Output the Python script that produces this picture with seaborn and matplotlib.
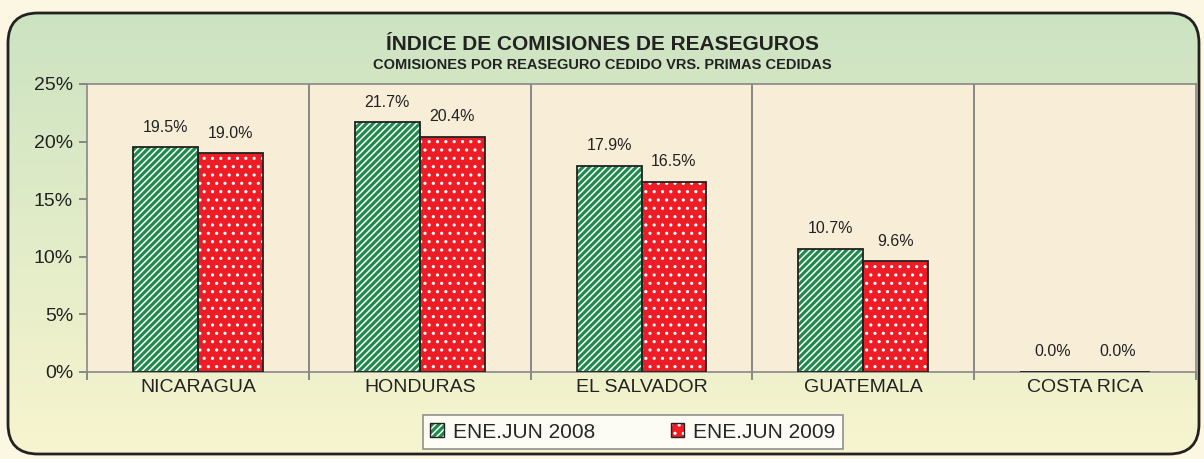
import numpy as np
import pandas as pd
import matplotlib
matplotlib.use("Agg")
import matplotlib.pyplot as plt
import seaborn as sns
from matplotlib.patches import FancyBboxPatch, Rectangle, Patch

# -----------------------------
# Data
# -----------------------------
paises = ["NICARAGUA", "HONDURAS", "EL SALVADOR", "GUATEMALA", "COSTA RICA"]
periodos = ["ENE.JUN 2008", "ENE.JUN 2009"]
valores_2008 = [19.5, 21.7, 17.9, 10.7, 0.0]
valores_2009 = [19.0, 20.4, 16.5, 9.6, 0.0]
y_ticks = [0, 5, 10, 15, 20, 25]

df = pd.DataFrame({
    "pais": paises * 2,
    "periodo": [periodos[0]] * len(paises) + [periodos[1]] * len(paises),
    "valor": valores_2008 + valores_2009,
})

sns.set_style("white")
plt.rcParams["font.family"] = ["Liberation Sans", "DejaVu Sans"]
plt.rcParams["hatch.linewidth"] = 1.1

colores = {periodos[0]: "#1e8a4c", periodos[1]: "#ee1c25"}
hatches = {periodos[0]: "/////", periodos[1]: ".."}

fig = plt.figure(figsize=(12.04, 4.59), dpi=100)
fig.patch.set_facecolor("#fcf7e3")

# background panel with gradient and rounded border
bg = fig.add_axes([0, 0, 1, 1])
bg.set_xlim(0, 1204)
bg.set_ylim(0, 459)
bg.axis("off")
grad = np.linspace(0, 1, 256).reshape(-1, 1)
top = np.array([0.80, 0.89, 0.76])
bottom = np.array([0.97, 0.96, 0.81])
img = top * (1 - grad[..., None]) + bottom * grad[..., None]
img = np.repeat(img, 2, axis=1)
box = FancyBboxPatch((8, 5), 1191, 441, boxstyle="round,pad=0,rounding_size=30",
                     facecolor="none", edgecolor="#222222", linewidth=2, zorder=2)
im = bg.imshow(img, extent=[8, 1199, 5, 446], aspect="auto", zorder=1)
bg.add_patch(box)
im.set_clip_path(box)

# main chart
ax = fig.add_axes([87 / 1204, 87 / 459, (1196 - 87) / 1204, (372 - 84) / 459])
ax.set_facecolor("#f8eed8")

sns.barplot(data=df, x="pais", y="valor", hue="periodo", palette=colores,
            width=0.585, gap=0, ax=ax, legend=False, saturation=1)

for cont, per in zip(ax.containers, periodos):
    for p in cont:
        p.set_hatch(hatches[per])
        p.set_edgecolor("white")
        p.set_linewidth(0)
        ax.add_patch(Rectangle(p.get_xy(), p.get_width(), p.get_height(),
                               facecolor="none", edgecolor="#222222",
                               linewidth=1.3, zorder=3))
    ax.bar_label(cont, labels=[f"{v:.1f}%" for v in cont.datavalues],
                 padding=9, fontsize=11.5, color="#222222")

for xb in np.arange(0.5, len(paises) - 0.5, 1):
    ax.axvline(xb, color="#777777", linewidth=1.2, zorder=0.5)

ax.set_xlim(-0.5, len(paises) - 0.5)
ax.set_ylim(0, 25)
ax.set_yticks(y_ticks)
ax.set_yticklabels([f"{t}%" for t in y_ticks])
ax.set_xlabel("")
ax.set_ylabel("")
ax.tick_params(axis="y", length=6, width=1.2, color="#777777", labelsize=14,
               labelcolor="#222222", pad=4, left=True)
ax.tick_params(axis="x", length=0, labelsize=14, labelcolor="#222222", pad=5)
ax.set_xticks(np.arange(-0.5, len(paises), 1), minor=True)
ax.tick_params(axis="x", which="minor", length=6, width=1.2, color="#777777", bottom=True)
for s in ax.spines.values():
    s.set_color("#888888")
    s.set_linewidth(1.2)

# titles
fig.text(0.5, 1 - 44 / 459, "ÍNDICE DE COMISIONES DE REASEGUROS", ha="center",
         va="center", fontsize=15, fontweight="bold", color="#222222")
fig.text(0.5, 1 - 65 / 459, "COMISIONES POR REASEGURO CEDIDO VRS. PRIMAS CEDIDAS",
         ha="center", va="center", fontsize=10.5, fontweight="bold", color="#222222")

# legend
handles = []
for per in periodos:
    h1 = Patch(facecolor=colores[per], hatch=hatches[per], edgecolor="white", linewidth=0)
    h2 = Patch(facecolor="none", edgecolor="#222222", linewidth=1)
    handles.append((h1, h2))
leg = fig.legend(handles, periodos, loc="center", bbox_to_anchor=(633 / 1204, 1 - 432 / 459),
                 ncol=2, frameon=True, fancybox=False, fontsize=15,
                 handlelength=0.65, handleheight=0.65, handletextpad=0.45,
                 columnspacing=3.6, borderpad=0.35)
leg.get_frame().set_edgecolor("#777777")
leg.get_frame().set_linewidth(1.2)

fig.savefig("out.png", dpi=100, facecolor=fig.get_facecolor())
